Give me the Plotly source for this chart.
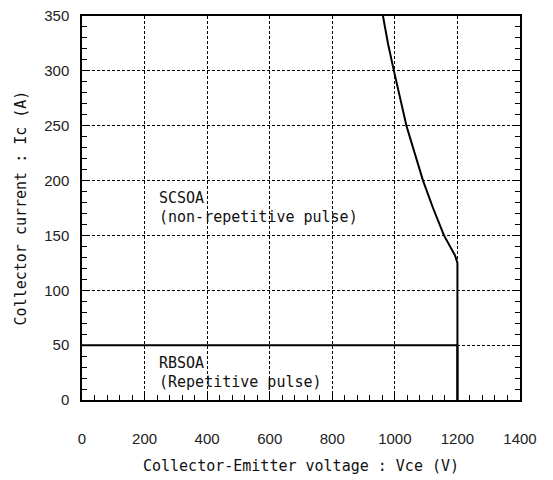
import plotly.graph_objects as go

# SCSOA curve (non-repetitive pulse)
scsoa_v = [962, 978, 997, 1037, 1090, 1122, 1157, 1192, 1200, 1200]
scsoa_i = [350, 325, 300, 250, 200, 175, 150, 132, 125, 0]

# RBSOA (repetitive pulse)
rbsoa_v = [0, 1200, 1200]
rbsoa_i = [50, 50, 0]

x_ticks = [0, 200, 400, 600, 800, 1000, 1200, 1400]
y_ticks = [0, 50, 100, 150, 200, 250, 300, 350]

mono = "DejaVu Sans Mono"
sans = "Liberation Sans"

fig = go.Figure()
fig.add_trace(go.Scatter(x=scsoa_v, y=scsoa_i, mode="lines",
                         line=dict(color="black", width=2), showlegend=False))
fig.add_trace(go.Scatter(x=rbsoa_v, y=rbsoa_i, mode="lines",
                         line=dict(color="black", width=2), showlegend=False))

annots = [
    ("SCSOA", 240, 184),
    ("(non-repetitive pulse)", 240, 167),
    ("RBSOA", 240, 34),
    ("(Repetitive pulse)", 240, 16),
]
for t, x, y in annots:
    fig.add_annotation(x=x, y=y, text=t, showarrow=False, xanchor="left",
                       yanchor="middle", font=dict(family=mono, size=15, color="#111"))

fig.update_layout(
    width=545, height=472,
    margin=dict(l=74, r=33, t=8, b=80),
    paper_bgcolor="white", plot_bgcolor="white",
    xaxis=dict(range=[0, 1400], tickvals=x_ticks, ticks="inside", ticklen=8,
               tickcolor="black", showline=True, linecolor="black", linewidth=1.5,
               mirror=True, showgrid=True, gridcolor="black", gridwidth=1,
               griddash="3px,2px", zeroline=False, automargin=False,
               ticklabeloverflow="allow",
               minor=dict(dtick=40, ticks="inside", ticklen=5, tickcolor="black", showgrid=False),
               ticklabelstandoff=24,
               tickfont=dict(family=sans, size=15, color="#222"),
               title=dict(text="Collector-Emitter voltage : Vce (V)", standoff=15,
                          font=dict(family=mono, size=15, color="#111"))),
    yaxis=dict(range=[0, 350], tickvals=y_ticks, ticks="inside", ticklen=6,
               tickcolor="black", showline=True, linecolor="black", linewidth=1.5,
               mirror="ticks", showgrid=True, gridcolor="black", gridwidth=1,
               griddash="3px,2px", zeroline=False, automargin=False,
               ticklabeloverflow="allow",
               minor=dict(dtick=10, ticks="inside", ticklen=5, tickcolor="black", showgrid=False),
               ticklabelstandoff=8,
               tickfont=dict(family=sans, size=15, color="#222"),
               title=dict(text="Collector current : Ic (A)", standoff=14,
                          font=dict(family=mono, size=15, color="#111"))),
)

fig.write_html("out.html")
